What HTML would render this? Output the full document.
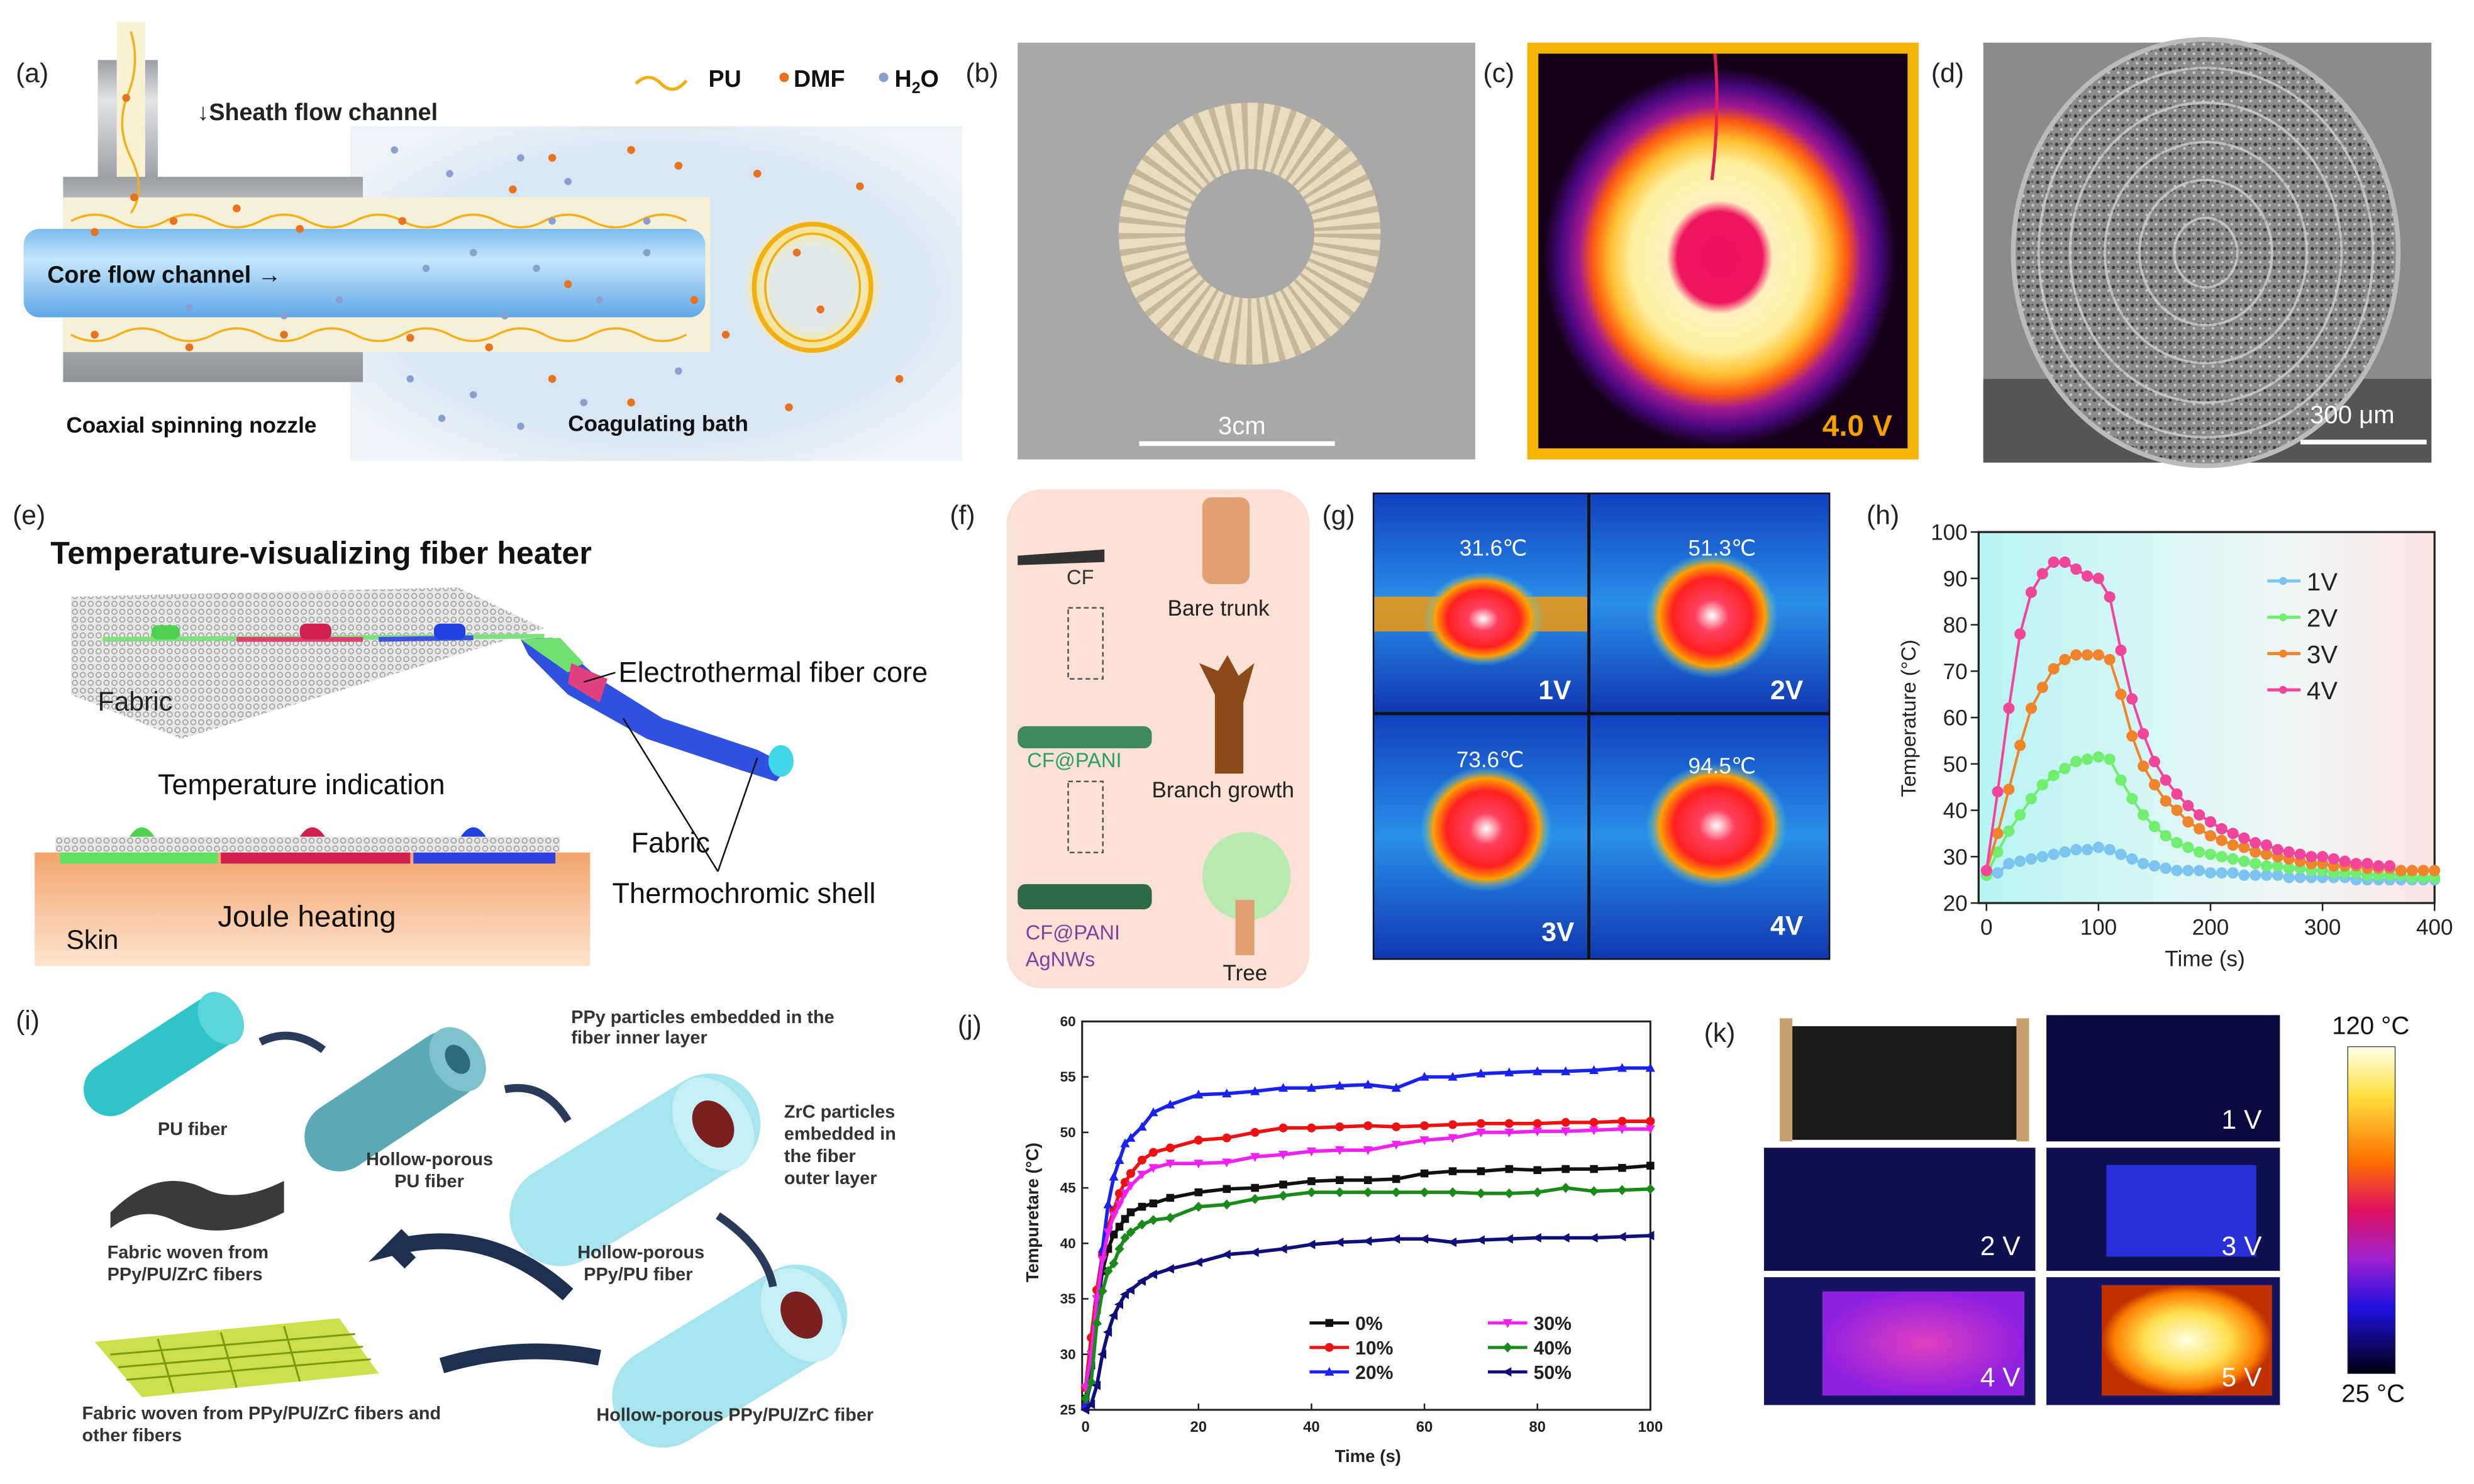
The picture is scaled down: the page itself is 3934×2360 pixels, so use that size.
<!DOCTYPE html>
<html><head><meta charset="utf-8">
<style>
html,body{margin:0;padding:0;background:#fff;}
svg{display:block;font-family:"Liberation Sans",Arial,sans-serif;}
</style></head>
<body>
<svg id="fig" width="3934" height="2360" viewBox="0 0 1568 940" preserveAspectRatio="none" xmlns="http://www.w3.org/2000/svg">
<defs>
<linearGradient id="tubeG" x1="0" y1="0" x2="0" y2="1"><stop offset="0" stop-color="#9a9ea3"/><stop offset="0.3" stop-color="#e2e4e6"/><stop offset="1" stop-color="#8e9297"/></linearGradient>
<linearGradient id="coreG" x1="0" y1="0" x2="0" y2="1"><stop offset="0" stop-color="#7cbcf0"/><stop offset="0.35" stop-color="#c5e6fb"/><stop offset="1" stop-color="#5ea8e8"/></linearGradient>
<radialGradient id="ringGlow"><stop offset="0.55" stop-color="#fff6c0" stop-opacity="0.2"/><stop offset="0.8" stop-color="#ffe27a" stop-opacity="0.8"/><stop offset="1" stop-color="#fff2c0" stop-opacity="0"/></radialGradient>
<radialGradient id="bathG" cx="0.5" cy="0.5" r="0.6"><stop offset="0.7" stop-color="#d8e6f4"/><stop offset="1" stop-color="#eef4fa"/></radialGradient>
<radialGradient id="irC" cx="0.5" cy="0.5" r="0.5"><stop offset="0" stop-color="#f01060"/><stop offset="0.24" stop-color="#f01560"/><stop offset="0.3" stop-color="#fff0c0"/><stop offset="0.5" stop-color="#fff0a0"/><stop offset="0.62" stop-color="#ffc030"/><stop offset="0.72" stop-color="#ff5a10"/><stop offset="0.8" stop-color="#a01890"/><stop offset="0.9" stop-color="#4a0880"/><stop offset="1" stop-color="#140018"/></radialGradient>
<radialGradient id="sem"><stop offset="0" stop-color="#8a8a8a"/><stop offset="0.9" stop-color="#777"/><stop offset="1" stop-color="#9a9a9a"/></radialGradient>
<radialGradient id="blob"><stop offset="0" stop-color="#ffffff"/><stop offset="0.25" stop-color="#ff4060"/><stop offset="0.6" stop-color="#ff2020"/><stop offset="0.8" stop-color="#ffa000"/><stop offset="1" stop-color="#30d0ff" stop-opacity="0"/></radialGradient>
<linearGradient id="irBg" x1="0" y1="0" x2="0" y2="1"><stop offset="0" stop-color="#1040c0"/><stop offset="0.5" stop-color="#2a90e8"/><stop offset="1" stop-color="#1038b0"/></linearGradient>
<linearGradient id="hBg" x1="0" y1="0" x2="1" y2="0"><stop offset="0" stop-color="#b8f3f3"/><stop offset="0.45" stop-color="#ddf6f6"/><stop offset="0.7" stop-color="#f1f6f6"/><stop offset="1" stop-color="#fbe4e4"/></linearGradient>
<linearGradient id="cbar" x1="0" y1="0" x2="0" y2="1"><stop offset="0" stop-color="#ffffe8"/><stop offset="0.15" stop-color="#ffe040"/><stop offset="0.35" stop-color="#ff7000"/><stop offset="0.5" stop-color="#e01060"/><stop offset="0.65" stop-color="#a020d0"/><stop offset="0.8" stop-color="#2010e0"/><stop offset="1" stop-color="#000010"/></linearGradient>
<linearGradient id="skinG" x1="0" y1="0" x2="0" y2="1"><stop offset="0" stop-color="#f3a56e"/><stop offset="1" stop-color="#fde3cf"/></linearGradient>
<radialGradient id="hot5"><stop offset="0" stop-color="#ffffe0"/><stop offset="0.5" stop-color="#ffe050"/><stop offset="0.85" stop-color="#ff8000"/><stop offset="1" stop-color="#c03000"/></radialGradient>
<radialGradient id="hot4"><stop offset="0" stop-color="#e040c0"/><stop offset="1" stop-color="#9020e0"/></radialGradient>
<pattern id="mesh" width="5" height="5" patternUnits="userSpaceOnUse"><rect width="5" height="5" fill="#e8e8e8"/><circle cx="2.5" cy="2.5" r="1.6" fill="none" stroke="#9a9a9a" stroke-width="0.6"/></pattern>
<pattern id="speck" width="6" height="6" patternUnits="userSpaceOnUse"><rect width="6" height="6" fill="#8c8c8c"/><circle cx="1.5" cy="1.5" r="1.1" fill="#3a3a3a"/><circle cx="4.5" cy="4" r="0.9" fill="#c8c8c8"/><circle cx="4" cy="1" r="0.6" fill="#555"/></pattern>
</defs>

<!-- ============ PANEL A ============ -->
<g>
<text x="10" y="52" font-size="17" fill="#222">(a)</text>
<rect x="222" y="80" width="388" height="212" fill="url(#bathG)"/>
<rect x="62" y="38" width="38" height="85" fill="url(#tubeG)"/>
<rect x="74" y="14" width="18" height="120" fill="#f8f1d4"/>
<rect x="40" y="112" width="190" height="130" fill="url(#tubeG)"/>
<rect x="40" y="125" width="410" height="98" fill="#f6f0d8"/>
<rect x="15" y="145" width="432" height="56" rx="10" fill="url(#coreG)"/>
<path d="M45 140 q15 -8 30 0 t30 0 t30 0 t30 0 t30 0 t30 0 t30 0 t30 0 t30 0 t30 0 t30 0 t30 0 t30 0 M45 212 q15 8 30 0 t30 0 t30 0 t30 0 t30 0 t30 0 t30 0 t30 0 t30 0 t30 0 t30 0 t30 0 t30 0 M83 20 q6 20 -2 40 t2 40 t0 35" fill="none" stroke="#f4b01a" stroke-width="1.4"/>
<circle cx="515" cy="182" r="45" fill="url(#ringGlow)"/>
<ellipse cx="515" cy="182" rx="37" ry="40" fill="none" stroke="#f2b010" stroke-width="3"/>
<ellipse cx="515" cy="182" rx="30" ry="34" fill="none" stroke="#f2b010" stroke-width="1.5"/>
<g fill="#e8731e">
<circle cx="80" cy="62" r="2.5"/><circle cx="85" cy="125" r="2.5"/><circle cx="60" cy="147" r="2.5"/><circle cx="110" cy="140" r="2.5"/><circle cx="150" cy="132" r="2.5"/><circle cx="190" cy="145" r="2.5"/><circle cx="255" cy="140" r="2.5"/><circle cx="60" cy="212" r="2.5"/><circle cx="120" cy="220" r="2.5"/><circle cx="180" cy="212" r="2.5"/><circle cx="260" cy="214" r="2.5"/><circle cx="310" cy="220" r="2.5"/><circle cx="350" cy="100" r="2.5"/><circle cx="400" cy="95" r="2.5"/><circle cx="430" cy="105" r="2.5"/><circle cx="480" cy="110" r="2.5"/><circle cx="545" cy="118" r="2.5"/><circle cx="360" cy="180" r="2.5"/><circle cx="440" cy="190" r="2.5"/><circle cx="505" cy="160" r="2.5"/><circle cx="520" cy="196" r="2.5"/><circle cx="460" cy="212" r="2.5"/><circle cx="350" cy="240" r="2.5"/><circle cx="400" cy="255" r="2.5"/><circle cx="500" cy="258" r="2.5"/><circle cx="570" cy="240" r="2.5"/><circle cx="325" cy="120" r="2.5"/>
</g>
<g fill="#8a9fd0">
<circle cx="250" cy="95" r="2.3"/><circle cx="285" cy="110" r="2.3"/><circle cx="330" cy="100" r="2.3"/><circle cx="360" cy="115" r="2.3"/><circle cx="270" cy="170" r="2.3"/><circle cx="300" cy="160" r="2.3"/><circle cx="340" cy="170" r="2.3"/><circle cx="380" cy="190" r="2.3"/><circle cx="410" cy="160" r="2.3"/><circle cx="320" cy="200" r="2.3"/><circle cx="260" cy="240" r="2.3"/><circle cx="300" cy="250" r="2.3"/><circle cx="370" cy="255" r="2.3"/><circle cx="430" cy="235" r="2.3"/><circle cx="280" cy="265" r="2.3"/><circle cx="330" cy="270" r="2.3"/><circle cx="215" cy="190" r="2.3"/><circle cx="120" cy="195" r="2.3"/><circle cx="180" cy="200" r="2.3"/><circle cx="350" cy="140" r="2.3"/><circle cx="410" cy="140" r="2.3"/>
</g>
<text x="125" y="76" font-size="15" font-weight="bold" fill="#222">↓Sheath flow channel</text>
<text x="30" y="179" font-size="15" font-weight="bold" fill="#111">Core flow channel →</text>
<text x="42" y="274" font-size="14" font-weight="bold" fill="#111">Coaxial spinning nozzle</text>
<text x="360" y="273" font-size="14" font-weight="bold" fill="#111">Coagulating bath</text>
<path d="M403 53 q8 -8 16 0 t16 -2" fill="none" stroke="#f2b010" stroke-width="2"/>
<text x="449" y="55" font-size="15" font-weight="bold" fill="#111">PU</text>
<circle cx="497" cy="49" r="3" fill="#e8731e"/>
<text x="503" y="55" font-size="15" font-weight="bold" fill="#111">DMF</text>
<circle cx="560" cy="49" r="3" fill="#8a9fd0"/>
<text x="567" y="55" font-size="15" font-weight="bold" fill="#111">H<tspan font-size="10" dy="4">2</tspan><tspan dy="-4">O</tspan></text>
</g>

<!-- ============ PANEL B ============ -->
<g>
<text x="612" y="52" font-size="17" fill="#222">(b)</text>
<rect x="645" y="27" width="290" height="264" fill="#a8a8a6"/>
<circle cx="792" cy="148" r="62" fill="none" stroke="#e9dcc0" stroke-width="42"/>
<circle cx="792" cy="148" r="62" fill="none" stroke="#b8a78a" stroke-width="42" stroke-dasharray="3 5" opacity="0.7"/>
<circle cx="792" cy="148" r="30" fill="#a8a8a6"/>
<line x1="722" y1="281" x2="846" y2="281" stroke="#fff" stroke-width="3"/>
<text x="772" y="275" font-size="16" fill="#fff">3cm</text>
</g>

<!-- ============ PANEL C ============ -->
<g>
<text x="940" y="52" font-size="17" fill="#222">(c)</text>
<rect x="968" y="27" width="248" height="264" fill="#f5b400"/>
<rect x="975" y="34" width="234" height="250" fill="#140018"/>
<ellipse cx="1090" cy="163" rx="112" ry="120" fill="url(#irC)"/>
<path d="M1087 34 q3 40 -2 80" fill="none" stroke="#e02050" stroke-width="2"/>
<text x="1155" y="276" font-size="19" font-weight="bold" fill="#f5a000">4.0 V</text>
</g>

<!-- ============ PANEL D ============ -->
<g>
<text x="1224" y="52" font-size="17" fill="#222">(d)</text>
<rect x="1257" y="27" width="284" height="266" fill="#8a8c8c"/>
<rect x="1257" y="240" width="284" height="53" fill="#555"/>
<ellipse cx="1398" cy="160" rx="122" ry="135" fill="url(#speck)"/>
<ellipse cx="1398" cy="160" rx="122" ry="135" fill="none" stroke="#bbb" stroke-width="3"/>
<g fill="none" stroke="#d8d8d8" stroke-width="1.6" opacity="0.7">
<ellipse cx="1398" cy="160" rx="20" ry="22"/><ellipse cx="1398" cy="160" rx="42" ry="46"/><ellipse cx="1398" cy="160" rx="64" ry="70"/><ellipse cx="1398" cy="160" rx="86" ry="95"/><ellipse cx="1398" cy="160" rx="106" ry="117"/></g>
<text x="1464" y="268" font-size="16" fill="#fff">300 μm</text>
<line x1="1458" y1="280" x2="1538" y2="280" stroke="#fff" stroke-width="3"/>
</g>

<!-- ============ PANEL E ============ -->
<g>
<text x="8" y="332" font-size="17" fill="#222">(e)</text>
<text x="32" y="357" font-size="20" font-weight="bold" fill="#111">Temperature-visualizing fiber heater</text>
<polygon points="45,378 290,372 345,398 115,468 45,440" fill="url(#mesh)"/>
<line x1="65" y1="405" x2="345" y2="403" stroke="#80e080" stroke-width="3"/>
<line x1="150" y1="405" x2="230" y2="405" stroke="#e04070" stroke-width="3"/>
<line x1="240" y1="405" x2="300" y2="404" stroke="#4050e0" stroke-width="3"/>
<rect x="96" y="396" width="18" height="9" rx="4" fill="#50d050"/>
<rect x="190" y="395" width="20" height="10" rx="4" fill="#d02050"/>
<rect x="275" y="395" width="20" height="10" rx="4" fill="#2040e0"/>
<path d="M330 405 L350 404 L380 430 L420 455 L480 475 L500 485 L492 495 L470 488 L410 468 L360 440 L335 415 Z" fill="#3050e0"/>
<path d="M330 405 L355 404 L370 420 L360 426 Z" fill="#70e070"/>
<path d="M362 420 L385 430 L380 445 L360 433 Z" fill="#e04080"/>
<ellipse cx="495" cy="482" rx="8" ry="10" fill="#40d8e8"/>
<text x="62" y="450" font-size="17" fill="#222">Fabric</text>
<text x="392" y="432" font-size="18" fill="#111">Electrothermal fiber core</text>
<line x1="390" y1="426" x2="370" y2="432" stroke="#111"/>
<rect x="22" y="540" width="352" height="72" fill="url(#skinG)"/>
<rect x="35" y="530" width="320" height="10" fill="url(#mesh)"/>
<rect x="38" y="540" width="100" height="7" fill="#60e060"/><rect x="140" y="540" width="120" height="7" fill="#d02050"/><rect x="262" y="540" width="90" height="7" fill="#3040e0"/>
<path d="M82 530 q8 -12 16 0 z" fill="#50d050"/><path d="M190 530 q8 -12 16 0 z" fill="#d02050"/><path d="M292 530 q8 -12 16 0 z" fill="#2040e0"/>
<text x="100" y="503" font-size="18" fill="#111">Temperature indication</text>
<text x="400" y="540" font-size="18" fill="#111">Fabric</text>
<text x="388" y="572" font-size="18" fill="#111">Thermochromic shell</text>
<line x1="455" y1="552" x2="395" y2="455" stroke="#111"/><line x1="455" y1="552" x2="480" y2="480" stroke="#111"/>
<text x="138" y="587" font-size="19" fill="#111">Joule heating</text>
<text x="42" y="601" font-size="17" fill="#111">Skin</text>
</g>

<!-- ============ PANEL F ============ -->
<g>
<text x="602" y="332" font-size="17" fill="#222">(f)</text>
<rect x="638" y="310" width="192" height="316" rx="22" fill="#fbe1d5"/>
<path d="M645 352 L700 348 L700 356 L645 358 Z" fill="#333"/>
<text x="676" y="370" font-size="13" fill="#333">CF</text>
<rect x="762" y="315" width="30" height="55" rx="6" fill="#e0a070"/>
<text x="740" y="390" font-size="14" fill="#222">Bare trunk</text>
<rect x="677" y="385" width="22" height="45" fill="none" stroke="#555" stroke-dasharray="3 2"/>
<rect x="645" y="460" width="85" height="14" rx="5" fill="#3d8a5a"/>
<text x="651" y="486" font-size="13" fill="#2aa060">CF@PANI</text>
<path d="M770 490 L770 440 L760 420 L772 425 L778 415 L785 428 L795 420 L788 445 L788 490 Z" fill="#8a4a1a"/>
<text x="730" y="505" font-size="14" fill="#222">Branch growth</text>
<rect x="677" y="495" width="22" height="45" fill="none" stroke="#555" stroke-dasharray="3 2"/>
<rect x="645" y="560" width="85" height="16" rx="5" fill="#2f6a48"/>
<text x="650" y="595" font-size="13" fill="#8040a0">CF@PANI</text>
<text x="650" y="612" font-size="13" fill="#8040a0">AgNWs</text>
<circle cx="790" cy="555" r="28" fill="#b8eab0"/>
<rect x="783" y="570" width="12" height="35" fill="#e0a070"/>
<text x="775" y="621" font-size="14" fill="#222">Tree</text>
</g>

<!-- ============ PANEL G ============ -->
<g>
<text x="838" y="332" font-size="17" fill="#222">(g)</text>
<rect x="870" y="312" width="290" height="296" fill="#111"/>
<rect x="871" y="313" width="135" height="138" fill="url(#irBg)"/>
<rect x="1008" y="313" width="151" height="138" fill="url(#irBg)"/>
<rect x="871" y="453" width="135" height="154" fill="url(#irBg)"/>
<rect x="1008" y="453" width="151" height="154" fill="url(#irBg)"/>
<rect x="871" y="378" width="135" height="22" fill="#ff9a00" opacity="0.8"/>
<ellipse cx="940" cy="392" rx="38" ry="30" fill="url(#blob)"/>
<ellipse cx="1085" cy="390" rx="42" ry="40" fill="url(#blob)"/>
<ellipse cx="942" cy="525" rx="42" ry="40" fill="url(#blob)"/>
<ellipse cx="1088" cy="523" rx="45" ry="40" fill="url(#blob)"/>
<g fill="#fff" font-size="14">
<text x="925" y="352">31.6℃</text><text x="1070" y="352">51.3℃</text><text x="923" y="486">73.6℃</text><text x="1070" y="490">94.5℃</text></g>
<g fill="#fff" font-size="17" font-weight="bold">
<text x="975" y="443">1V</text><text x="1122" y="443">2V</text><text x="977" y="596">3V</text><text x="1122" y="592">4V</text></g>
</g>

<!-- ============ PANEL H (chart) ============ -->
<g id="chartH">
<text x="1183" y="332" font-size="17" fill="#222">(h)</text>
</g>

<!-- ============ PANEL I ============ -->
<g font-weight="bold" font-size="11.5" fill="#333">
<text x="10" y="652" font-size="17" font-weight="normal" fill="#222">(i)</text>
<line x1="70" y1="690" x2="135" y2="648" stroke="#2fc4c8" stroke-width="34" stroke-linecap="round"/>
<ellipse cx="140" cy="645" rx="13" ry="18" transform="rotate(-33 140 645)" fill="#5ad6da"/>
<line x1="215" y1="720" x2="283" y2="675" stroke="#5aa9b6" stroke-width="44" stroke-linecap="round"/>
<ellipse cx="290" cy="671" rx="16" ry="22" transform="rotate(-33 290 671)" fill="#7ec2cc"/>
<ellipse cx="290" cy="671" rx="7" ry="10" transform="rotate(-33 290 671)" fill="#2d6c78"/>
<line x1="355" y1="770" x2="450" y2="712" stroke="#a6e4ee" stroke-width="64" stroke-linecap="round"/>
<ellipse cx="452" cy="712" rx="23" ry="32" transform="rotate(-33 452 712)" fill="#c4f0f5"/>
<ellipse cx="452" cy="712" rx="12" ry="16" transform="rotate(-33 452 712)" fill="#7a2020"/>
<line x1="420" y1="885" x2="505" y2="833" stroke="#a6e4ee" stroke-width="64" stroke-linecap="round"/>
<ellipse cx="508" cy="833" rx="23" ry="32" transform="rotate(-33 508 833)" fill="#c4f0f5"/>
<ellipse cx="508" cy="833" rx="12" ry="16" transform="rotate(-33 508 833)" fill="#7a2020"/>
<path d="M165 660 q20 -10 40 5" fill="none" stroke="#2a3a5a" stroke-width="5"/>
<path d="M320 690 q25 -5 40 20" fill="none" stroke="#2a3a5a" stroke-width="5"/>
<path d="M455 770 q30 20 35 45" fill="none" stroke="#2a3a5a" stroke-width="5"/>
<path d="M360 820 q-50 -45 -110 -30 l8 -8 M250 790 l10 10" fill="none" stroke="#1e3050" stroke-width="10"/>
<path d="M380 860 q-50 -10 -100 5" fill="none" stroke="#1e3050" stroke-width="10"/>
<path d="M70 768 q30 -30 60 -15 q20 10 50 -5 l0 20 q-40 20 -70 5 q-20 -10 -40 5 z" fill="#3a3a3a"/>
<polygon points="60,850 215,835 240,870 90,885" fill="#c6dc3a" opacity="0.9"/>
<g stroke="#7a9a10" stroke-width="1.2"><line x1="70" y1="858" x2="225" y2="845"/><line x1="75" y1="866" x2="230" y2="853"/><line x1="80" y1="874" x2="235" y2="861"/><line x1="100" y1="848" x2="110" y2="882"/><line x1="140" y1="844" x2="150" y2="879"/><line x1="180" y1="840" x2="190" y2="875"/></g>
<text x="100" y="719">PU fiber</text>
<text x="232" y="738">Hollow-porous</text><text x="250" y="752">PU fiber</text>
<text x="362" y="648">PPy particles embedded in the</text><text x="362" y="661">fiber inner layer</text>
<text x="497" y="708">ZrC particles</text><text x="497" y="722">embedded in</text><text x="497" y="736">the fiber</text><text x="497" y="750">outer layer</text>
<text x="366" y="797">Hollow-porous</text><text x="370" y="811">PPy/PU fiber</text>
<text x="68" y="797">Fabric woven from</text><text x="68" y="811">PPy/PU/ZrC fibers</text>
<text x="52" y="899">Fabric woven from PPy/PU/ZrC fibers and</text><text x="52" y="913">other fibers</text>
<text x="378" y="900">Hollow-porous PPy/PU/ZrC fiber</text>
</g>

<!-- ============ PANEL J (chart) ============ -->
<g id="chartJ">
<text x="607" y="655" font-size="17" fill="#222">(j)</text>
</g>

<!-- ============ PANEL K ============ -->
<g>
<text x="1080" y="660" font-size="17" fill="#222">(k)</text>
<rect x="1118" y="643" width="172" height="80" fill="#fff"/>
<rect x="1132" y="650" width="150" height="72" fill="#1a1a1a"/>
<rect x="1128" y="645" width="8" height="78" fill="#c8a070"/><rect x="1278" y="645" width="8" height="78" fill="#c8a070"/>
<rect x="1297" y="643" width="148" height="80" fill="#0a0a40"/>
<rect x="1118" y="727" width="172" height="78" fill="#0e1050"/>
<rect x="1297" y="727" width="148" height="78" fill="#0e1050"/>
<rect x="1335" y="738" width="95" height="58" fill="#2a30d8"/>
<rect x="1118" y="809" width="172" height="81" fill="#141460"/>
<rect x="1155" y="818" width="128" height="66" fill="url(#hot4)"/>
<rect x="1297" y="809" width="148" height="81" fill="#141460"/>
<rect x="1332" y="814" width="108" height="70" fill="url(#hot5)"/>
<g fill="#fff" font-size="17"><text x="1408" y="715">1 V</text><text x="1255" y="795">2 V</text><text x="1408" y="795">3 V</text><text x="1255" y="878">4 V</text><text x="1408" y="878">5 V</text></g>
<rect x="1488" y="663" width="30" height="207" fill="url(#cbar)" stroke="#333" stroke-width="0.5"/>
<text x="1478" y="655" font-size="16" fill="#111">120 °C</text>
<text x="1484" y="888" font-size="16" fill="#111">25 °C</text>
</g>
</svg>

<script>
const NS = "http://www.w3.org/2000/svg";
function mk(parent, tag, attrs) {
  const e = document.createElementNS(NS, tag);
  for (const k in attrs) e.setAttribute(k, attrs[k]);
  parent.appendChild(e);
  return e;
}

/* ---- chart h data ---- */
const hTimes = [0,10,20,30,40,50,60,70,80,90,100,110,120,130,140,150,160,170,180,190,200,210,220,230,240,250,260,270,280,290,300,310,320,330,340,350,360,370,380,390,400];
const h1V = [26,26.5,28.5,29,29.5,30,30.5,31,31.5,31.5,32,31.5,30.5,29.5,28.5,28,27.5,27,27,27,26.5,26.5,26.5,26,26,26,26,25.5,25.5,25.5,25.5,25.5,25.5,25,25,25,25,25,25,25,25];
const h2V = [26,31,35.5,39,42.5,45.5,47.5,49,50.5,51,51.5,51,46.5,42.5,39,36.5,34.5,33,32,31,30.5,30,29.5,29,28.5,28,28,27.5,27.5,27,27,26.5,26.5,26.5,26,26,26,26,25.5,25.5,25.5];
const h3V = [27,35,44.5,54,62,66.5,70.5,72.5,73.5,73.5,73.5,72.5,65,56,49.5,45.5,42,40,37.5,36,34.5,33.5,32.5,32,31,30.5,30,29.5,29,28.5,28.5,28,28,28,27.5,27.5,27.5,27,27,27,27];
const h4V = [27,44,62,78,87,91,93.5,93.5,92,90.5,90,86,74.5,64,56.5,50.5,46.5,43.5,41,39,37.5,36,35,34,33,32.5,31.5,31,30.5,30,30,29.5,29,28.5,28.5,28,28];
const hXTicks = [0,100,200,300,400];
const hYTicks = [20,30,40,50,60,70,80,90,100];
const hNames = ["1V","2V","3V","4V"];

/* ---- chart j data ---- */
const jTimes = [0,1,2,3,4,5,6,7,8,10,12,15,20,25,30,35,40,45,50,55,60,65,70,75,80,85,90,95,100];
const j0 = [26,29,34,37.5,39.5,40.8,41.5,42.2,42.8,43.3,43.6,44.1,44.6,44.9,45,45.3,45.6,45.7,45.7,45.8,46.3,46.5,46.5,46.7,46.6,46.7,46.7,46.8,47];
const j10 = [27,31.5,35.8,39,41.5,43,44.5,45.5,46.3,47.5,48.2,48.6,49.3,49.5,50,50.4,50.4,50.5,50.6,50.5,50.6,50.7,50.8,50.8,50.8,50.9,50.9,51,51];
const j20 = [25.5,27.5,33,39.5,43.5,46,47.5,49,49.5,50.5,51.8,52.5,53.4,53.5,53.7,54,54,54.2,54.3,54,55,55,55.3,55.4,55.5,55.5,55.6,55.8,55.8];
const j30 = [27,30,35,38.5,41,42.5,43.5,44.5,45.2,46.2,46.8,47.2,47.2,47.3,47.8,48,48.3,48.4,48.4,48.9,49.3,49.5,50,50,50.1,50.1,50.2,50.3,50.3];
const j40 = [26,27.5,32.8,35.7,37.5,38.2,39.5,40.5,41,41.7,42.1,42.3,43.3,43.5,44,44.3,44.6,44.6,44.6,44.6,44.6,44.6,44.5,44.5,44.6,45,44.7,44.8,44.9];
const j50 = [25,25.5,27.2,30,32,33.5,34.5,35.4,35.8,36.6,37.2,37.7,38.3,39,39.2,39.5,39.9,40.1,40.2,40.4,40.4,40.1,40.3,40.4,40.5,40.5,40.5,40.6,40.7];
const jXTicks = [0,20,40,60,80,100];
const jYTicks = [25,30,35,40,45,50,55,60];
const jNames = ["0%","10%","20%","30%","40%","50%"];

/* ---------- draw chart h ---------- */
(function(){
  const g = document.getElementById("chartH");
  const X = t => 1259 + t * (284 / 400);
  const Y = v => 572 - (v - 20) * (235 / 80);
  const bg = mk(g, "rect", {x: X(-7), y: Y(100), width: X(400) - X(-7), height: Y(20) - Y(100), fill: "url(#hBg)", stroke: "#222", "stroke-width": 1.3});
  
  
  hXTicks.forEach(t => {
    mk(g, "line", {x1: X(t), x2: X(t), y1: Y(20), y2: Y(20) + 5, stroke: "#222"});
    const tx = mk(g, "text", {x: X(t), y: Y(20) + 20, "font-size": 14, "text-anchor": "middle", fill: "#222"});
    tx.textContent = t;
    
    
  });
  hYTicks.forEach(v => {
    mk(g, "line", {x1: X(-7) - 5, x2: X(-7), y1: Y(v), y2: Y(v), stroke: "#222"});
    const tx = mk(g, "text", {x: X(-7) - 7, y: Y(v) + 5, "font-size": 14, "text-anchor": "end", fill: "#222"});
    tx.textContent = v;
    
    
  });
  const xl = mk(g, "text", {x: X(195), y: 612, "font-size": 14, "text-anchor": "middle", fill: "#222"});
  xl.textContent = "Time (s)";
  
  
  const yl = mk(g, "text", {x: 0, y: 0, "font-size": 13, "text-anchor": "middle", fill: "#222", transform: "translate(1214 455) rotate(-90)"});
  yl.textContent = "Temperature (°C)";
  
  
  const series = [h1V, h2V, h3V, h4V];
  const colors = ["#7cc4f0", "#70ee70", "#f0842a", "#f0459a"];
  series.forEach((s, i) => {
    const pts = s.map((v, k) => X(hTimes[k]) + "," + Y(v)).join(" ");
    const pl = mk(g, "polyline", {points: pts, fill: "none", stroke: colors[i], "stroke-width": 1.6});
    
    
    s.forEach((v, k) => {
      const c = mk(g, "circle", {cx: X(hTimes[k]), cy: Y(v), r: 3.6, fill: colors[i]});
      
      
    });
    const ly = 368 + i * 23;
    mk(g, "line", {x1: 1437, x2: 1458, y1: ly, y2: ly, stroke: colors[i], "stroke-width": 2});
    mk(g, "circle", {cx: 1447, cy: ly, r: 2.5, fill: colors[i]});
    const lt = mk(g, "text", {x: 1462, y: ly + 6, "font-size": 16, fill: "#222"});
    lt.textContent = hNames[i];
    
    
  });
})();

/* ---------- draw chart j ---------- */
(function(){
  const g = document.getElementById("chartJ");
  const X = t => 688 + t * 3.58;
  const Y = v => 893 - (v - 25) * (246 / 35);
  const box = mk(g, "rect", {x: X(-0.6), y: Y(60), width: X(100) - X(-0.6), height: Y(25) - Y(60), fill: "#fff", stroke: "#222", "stroke-width": 1.2});
  
  
  jXTicks.forEach(t => {
    mk(g, "line", {x1: X(t), x2: X(t), y1: Y(25), y2: Y(25) - 4, stroke: "#222"});
    const tx = mk(g, "text", {x: X(t), y: Y(25) + 14, "font-size": 9.5, "font-weight": "bold", "text-anchor": "middle", fill: "#222"});
    tx.textContent = t;
    
    
  });
  jYTicks.forEach(v => {
    mk(g, "line", {x1: X(-0.6), x2: X(-0.6) + 4, y1: Y(v), y2: Y(v), stroke: "#222"});
    const tx = mk(g, "text", {x: X(-0.6) - 4, y: Y(v) + 3, "font-size": 9, "font-weight": "bold", "text-anchor": "end", fill: "#222"});
    tx.textContent = v;
    
    
  });
  const xl = mk(g, "text", {x: X(50), y: 926, "font-size": 11, "font-weight": "bold", "text-anchor": "middle", fill: "#222"});
  xl.textContent = "Time (s)";
  
  
  const yl = mk(g, "text", {x: 0, y: 0, "font-size": 11, "font-weight": "bold", "text-anchor": "middle", fill: "#222", transform: "translate(658 768) rotate(-90)"});
  yl.textContent = "Tempuretare (°C)";
  
  
  const series = [j0, j10, j20, j30, j40, j50];
  const colors = ["#111111", "#ee1111", "#1a22f0", "#f020f0", "#1a8a1a", "#10107a"];
  const shapes = ["sq", "ci", "tu", "td", "di", "tl"];
  function marker(x, y, sh, col) {
    let e;
    if (sh === "sq") e = mk(g, "rect", {x: x - 2.5, y: y - 2.5, width: 5, height: 5, fill: col});
    else if (sh === "ci") e = mk(g, "circle", {cx: x, cy: y, r: 2.8, fill: col});
    else if (sh === "tu") e = mk(g, "polygon", {points: `${x},${y-3.2} ${x-3},${y+2.4} ${x+3},${y+2.4}`, fill: col});
    else if (sh === "td") e = mk(g, "polygon", {points: `${x},${y+3.2} ${x-3},${y-2.4} ${x+3},${y-2.4}`, fill: col});
    else if (sh === "di") e = mk(g, "polygon", {points: `${x},${y-3.2} ${x+3},${y} ${x},${y+3.2} ${x-3},${y}`, fill: col});
    else e = mk(g, "polygon", {points: `${x-3.2},${y} ${x+2.4},${y-3} ${x+2.4},${y+3}`, fill: col});
    return e;
  }
  series.forEach((s, i) => {
    const pts = s.map((v, k) => X(jTimes[k]) + "," + Y(v)).join(" ");
    const pl = mk(g, "polyline", {points: pts, fill: "none", stroke: colors[i], "stroke-width": 2.2});
    
    
    s.forEach((v, k) => {
      const m = marker(X(jTimes[k]), Y(v), shapes[i], colors[i]);
      
      
    });
    const col = i < 3 ? 0 : 1;
    const row = i % 3;
    const lx = col === 0 ? 830 : 943;
    const ly = 838 + row * 15.5;
    mk(g, "line", {x1: lx, x2: lx + 25, y1: ly, y2: ly, stroke: colors[i], "stroke-width": 2});
    marker(lx + 12.5, ly, shapes[i], colors[i]);
    const lt = mk(g, "text", {x: lx + 29, y: ly + 4.5, "font-size": 12, "font-weight": "bold", fill: "#222"});
    lt.textContent = jNames[i];
    
    
  });
})();
</script>
</body></html>
